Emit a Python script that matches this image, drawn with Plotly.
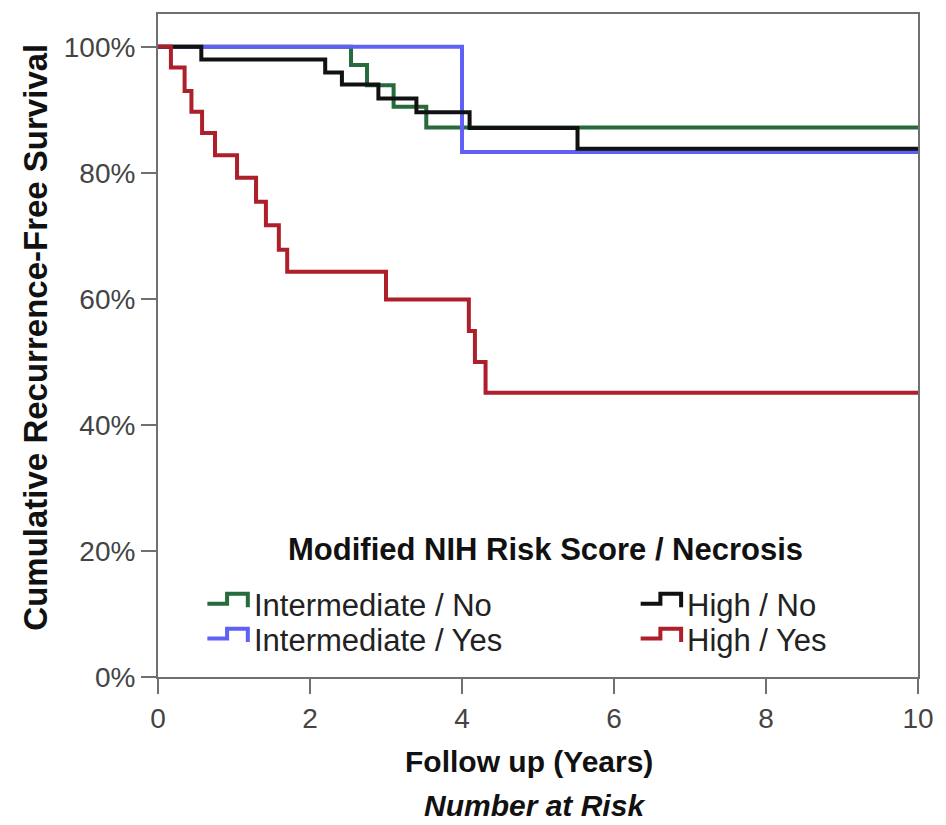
import plotly.graph_objects as go

# ---- data ----
int_no_t = [0, 2.54, 2.75, 3.10, 3.53, 10]
int_no_s = [100, 97.1, 93.9, 90.5, 87.2, 87.2]

int_yes_t = [0, 4.0, 10]
int_yes_s = [100, 83.3, 83.3]

high_no_t = [0, 0.57, 2.20, 2.42, 2.90, 3.40, 4.10, 5.52, 10]
high_no_s = [100, 98.0, 95.9, 94.0, 91.8, 89.6, 87.1, 83.8, 83.8]

high_yes_t = [0, 0.17, 0.35, 0.44, 0.58, 0.75, 1.04, 1.29, 1.42, 1.59, 1.70, 3.00, 4.09, 4.17, 4.31, 10]
high_yes_s = [100, 96.7, 93.0, 89.7, 86.3, 82.8, 79.2, 75.4, 71.7, 67.8, 64.3, 59.9, 54.9, 50.0, 45.1, 45.1]

x_ticks = [0, 2, 4, 6, 8, 10]
y_ticks = [0, 20, 40, 60, 80, 100]
y_tick_labels = ["0%", "20%", "40%", "60%", "80%", "100%"]

series_names = ["Intermediate / No", "Intermediate / Yes", "High / No", "High / Yes"]
legend_title = "Modified NIH Risk Score / Necrosis"

GREEN = "#256b3c"
BLUE = "#6060f4"
BLACK = "#111111"
RED = "#ad1f2b"

FONT = "Liberation Sans, Arial, sans-serif"

fig = go.Figure()
# drawing order: green, blue, black, red (red on top)
for t, s, name, col in [
    (int_no_t, int_no_s, series_names[0], GREEN),
    (int_yes_t, int_yes_s, series_names[1], BLUE),
    (high_no_t, high_no_s, series_names[2], BLACK),
    (high_yes_t, high_yes_s, series_names[3], RED),
]:
    fig.add_trace(go.Scatter(x=t, y=s, mode="lines", name=name,
                             line=dict(color=col, width=4, shape="hv"),
                             showlegend=False))

W, H = 946, 825
L, R, T, B = 158, 18, 12, 148
pw, ph = W - L - R, H - T - B


def px(x):
    return (x - L) / pw


def py(y):
    return (H - B - y) / ph


annotations = []
shapes = []

# legend title
annotations.append(dict(text="<b>" + legend_title + "</b>", x=px(551), y=py(549),
                        xref="paper", yref="paper", showarrow=False,
                        xanchor="center", yanchor="middle",
                        font=dict(family=FONT, size=31, color="#111")))

# legend entries (custom step-shaped symbols)
entries = [
    (series_names[0], GREEN, 208, 605),
    (series_names[1], BLUE, 208, 640),
    (series_names[2], BLACK, 647, 605),
    (series_names[3], RED, 647, 640),
]
for name, col, x0, yc in entries:
    xa, xb, xc = x0, x0 + 20, x0 + 41
    ylow, ytop, yend = yc - 1.5, yc - 11.5, yc + 2
    path = (f"M {px(xa)},{py(ylow)} L {px(xb)},{py(ylow)} L {px(xb)},{py(ytop)} "
            f"L {px(xc)},{py(ytop)} L {px(xc)},{py(yend)}")
    shapes.append(dict(type="path", path=path, xref="paper", yref="paper",
                       line=dict(color=col, width=4)))
    annotations.append(dict(text=name, x=px(x0 + 45), y=py(yc),
                            xref="paper", yref="paper", showarrow=False,
                            xanchor="left", yanchor="middle",
                            font=dict(family=FONT, size=31, color="#222")))

# axis titles
annotations.append(dict(text="<b>Follow up (Years)</b>", x=px(534), y=py(762),
                        xref="paper", yref="paper", showarrow=False,
                        xanchor="center", yanchor="middle",
                        font=dict(family=FONT, size=30, color="#111")))
annotations.append(dict(text="<b><i>Number at Risk</i></b>", x=px(539), y=py(806),
                        xref="paper", yref="paper", showarrow=False,
                        xanchor="center", yanchor="middle",
                        font=dict(family=FONT, size=30, color="#111")))
annotations.append(dict(text="<b>Cumulative Recurrence-Free Survival</b>", x=px(33), y=py(336),
                        xref="paper", yref="paper", showarrow=False, textangle=-90,
                        xanchor="center", yanchor="middle",
                        font=dict(family=FONT, size=33, color="#111")))

axis_common = dict(showgrid=False, zeroline=False, showline=True, linecolor="#707070",
                   linewidth=2, mirror=True, ticks="outside", ticklen=15, tickwidth=2,
                   tickcolor="#707070",
                   tickfont=dict(family=FONT, size=28, color="#444"))

fig.update_layout(
    width=W, height=H,
    margin=dict(l=L, r=R, t=T, b=B),
    paper_bgcolor="white", plot_bgcolor="white",
    xaxis=dict(range=[0, 10], tickvals=x_ticks, ticktext=[str(v) for v in x_ticks], **axis_common),
    yaxis=dict(range=[0, 105.2], tickvals=y_ticks, ticktext=y_tick_labels, **axis_common),
    annotations=annotations,
    shapes=shapes,
    showlegend=False,
)

fig.write_html("out.html", config={"displayModeBar": False},
               post_script="document.body.style.margin='0px';document.body.style.overflow='hidden';")
